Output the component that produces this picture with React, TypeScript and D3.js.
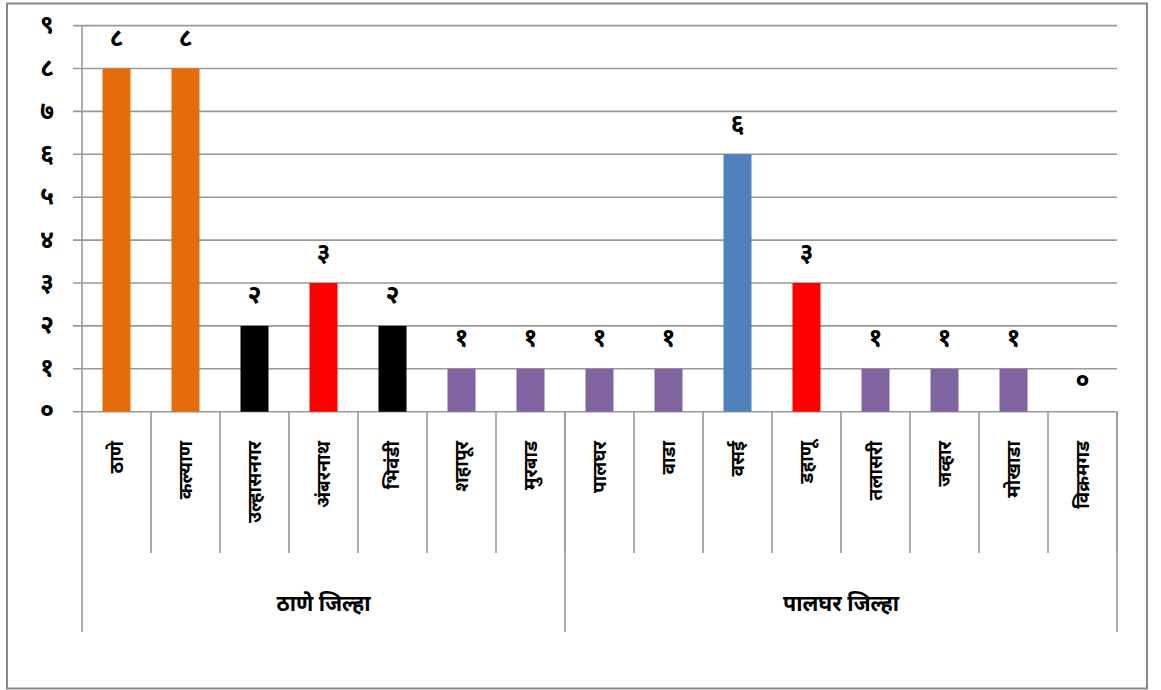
import React from "react";
import * as d3 from "d3";

const categories = ["ठाणे", "कल्याण", "उल्हासनगर", "अंबरनाथ", "भिवंडी", "शहापूर", "मुरबाड", "पालघर", "वाडा", "वसई", "डहाणू", "तलासरी", "जव्हार", "मोखाडा", "विक्रमगड"];
const values = [8, 8, 2, 3, 2, 1, 1, 1, 1, 6, 3, 1, 1, 1, 0];
const barColors = ["#E46C0A", "#E46C0A", "#000000", "#FF0000", "#000000", "#8064A2", "#8064A2", "#8064A2", "#8064A2", "#4F81BD", "#FF0000", "#8064A2", "#8064A2", "#8064A2", "#8064A2"];
const groups = ["ठाणे जिल्हा", "पालघर जिल्हा"];
const groupSizes = [7, 8];
const yTicks = [0, 1, 2, 3, 4, 5, 6, 7, 8, 9];

const devDigits = "०१२३४५६७८९";
const toDev = (n: number) => String(n).split("").map((c) => devDigits[+c] ?? c).join("");

const FONT = "'Noto Sans Devanagari', 'Lohit Devanagari', 'Mangal', 'Noto Sans', sans-serif";

export default function App() {
  const W = 1161, H = 690;
  const left = 82, right = 1117, top = 25.6, bottom = 411.7;
  const x = d3.scaleBand<string>().domain(categories).range([left, right]).paddingInner(0).paddingOuter(0);
  const y = d3.scaleLinear().domain([0, 9]).range([bottom, top]);
  const bw = x.bandwidth();
  const barW = 28;
  const grid = "#999999";

  let acc = 0;
  const groupBounds = groupSizes.map((s) => {
    const start = acc;
    acc += s;
    return { x0: left + start * bw, x1: left + acc * bw };
  });

  return (
    <svg width={W} height={H} style={{ position: "absolute", left: 0, top: 0, background: "#fff" }}>
      <rect x={7} y={3.5} width={1140} height={685} fill="#fff" stroke="#888" strokeWidth={2} />
      {yTicks.map((t) => (
        <g key={t}>
          <line x1={73} x2={right} y1={y(t)} y2={y(t)} stroke={grid} strokeWidth={1.6} />
          <text x={47} y={y(t)} dy="0.3em" textAnchor="middle" fontFamily={FONT} fontWeight="bold" fontSize={25} fill="#000">
            {toDev(t)}
          </text>
        </g>
      ))}
      <line x1={left} x2={left} y1={top} y2={632} stroke={grid} strokeWidth={1.6} />
      {categories.map((c, i) => (
        <line key={"s" + i} x1={left + (i + 1) * bw} x2={left + (i + 1) * bw} y1={bottom} y2={553} stroke={grid} strokeWidth={1.6} />
      ))}
      {groupBounds.map((g, i) => (
        <line key={"g" + i} x1={g.x1} x2={g.x1} y1={bottom} y2={632} stroke={grid} strokeWidth={1.6} />
      ))}
      {categories.map((c, i) => {
        const cx = (x(c) as number) + bw / 2;
        return (
          <g key={c}>
            <rect x={cx - barW / 2} y={y(values[i])} width={barW} height={bottom - y(values[i])} fill={barColors[i]} />
            <text x={cx} y={y(values[i]) - 30} dy="0.3em" textAnchor="middle" fontFamily={FONT} fontWeight="bold" fontSize={25} fill="#000">
              {toDev(values[i])}
            </text>
            <text transform={`translate(${cx},441) rotate(-90)`} dy="0.35em" textAnchor="end" fontFamily={FONT} fontWeight="bold" fontSize={19} fill="#000">
              {c}
            </text>
          </g>
        );
      })}
      {groupBounds.map((g, i) => (
        <text key={groups[i]} x={(g.x0 + g.x1) / 2} y={603} dy="0.35em" textAnchor="middle" fontFamily={FONT} fontWeight="bold" fontSize={21.5} fill="#000">
          {groups[i]}
        </text>
      ))}
    </svg>
  );
}
